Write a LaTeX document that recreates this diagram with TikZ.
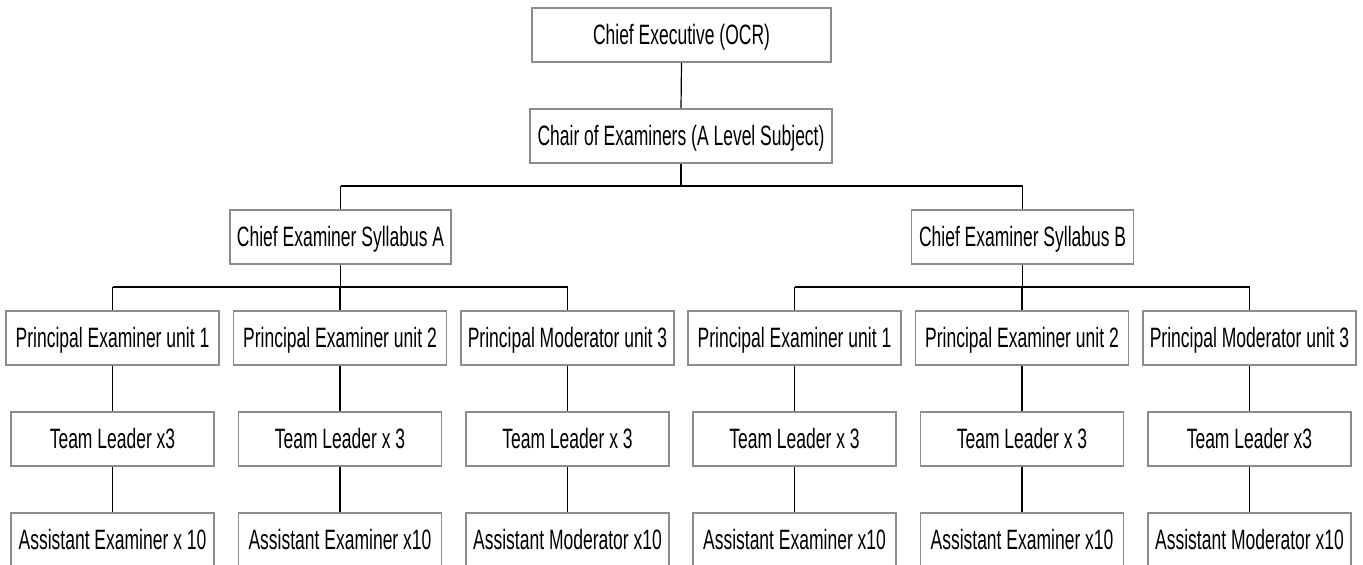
\documentclass[tikz,border=0pt]{standalone}
\usepackage{fontspec}
\setmainfont{Liberation Sans}[FakeStretch=0.625]
\begin{document}
\begin{tikzpicture}[x=1pt,y=-1pt,
  box/.style={draw=boxgray, line width=1.6pt, fill=white, inner sep=0pt,
    minimum height=54pt, text height=19.5pt, text depth=0pt,
    font=\fontsize{28}{32}\selectfont},
  link/.style={draw=black, line width=1.2pt},
  bus/.style={draw=black, line width=2pt}]
\definecolor{boxgray}{HTML}{8C8C8C}
\useasboundingbox (0,0) rectangle (1363,565);
\clip (0,0) rectangle (1363,565);
\fill[white] (0,0) rectangle (1363,565);
% top
\node[box, minimum width=299pt] (ce) at (681.5,35) {Chief Executive (OCR)};
\node[box, minimum width=301.5pt] (chair) at (681,136) {Chair of Examiners (A Level Subject)};
\node[box, minimum width=221pt] (cesA) at (340.5,237) {Chief Examiner Syllabus A};
\node[box, minimum width=222pt] (cesB) at (1022.6,237) {Chief Examiner Syllabus B};
% principal row
\node[box, minimum width=213pt] (pA1) at (112.5,338) {Principal Examiner unit 1};
\node[box, minimum width=213pt] (pA2) at (340,338) {Principal Examiner unit 2};
\node[box, minimum width=213pt] (pA3) at (567.5,338) {Principal Moderator unit 3};
\node[box, minimum width=213pt] (pB1) at (794.5,338) {Principal Examiner unit 1};
\node[box, minimum width=213pt] (pB2) at (1022,338) {Principal Examiner unit 2};
\node[box, minimum width=213pt] (pB3) at (1249.5,338) {Principal Moderator unit 3};
% team leaders
\node[box, minimum width=203pt] (tA1) at (112.5,439) {Team Leader x3};
\node[box, minimum width=203pt] (tA2) at (340,439) {Team Leader x 3};
\node[box, minimum width=203pt] (tA3) at (567.5,439) {Team Leader x 3};
\node[box, minimum width=203pt] (tB1) at (794.5,439) {Team Leader x 3};
\node[box, minimum width=203pt] (tB2) at (1022,439) {Team Leader x 3};
\node[box, minimum width=203pt] (tB3) at (1249.5,439) {Team Leader x3};
% assistants
\node[box, minimum width=203pt] (aA1) at (112.5,540) {Assistant Examiner x 10};
\node[box, minimum width=203pt] (aA2) at (340,540) {Assistant Examiner x10};
\node[box, minimum width=203pt] (aA3) at (567.5,540) {Assistant Moderator x10};
\node[box, minimum width=203pt] (aB1) at (794.5,540) {Assistant Examiner x10};
\node[box, minimum width=203pt] (aB2) at (1022,540) {Assistant Examiner x10};
\node[box, minimum width=203pt] (aB3) at (1249.5,540) {Assistant Moderator x10};
% bus coordinates
\coordinate (b0) at (681,186);
\coordinate (bA) at (340.5,287);
\coordinate (bB) at (1022.6,287);
% connectors
\draw[link] (ce.south) -- (chair.north);
\draw[link] (chair.south) -- (b0);
\draw[bus] (cesA.north |- b0) -- (cesB.north |- b0);
\draw[link] (cesA.north |- b0) -- (cesA.north);
\draw[link] (cesB.north |- b0) -- (cesB.north);
\draw[link] (cesA.south) -- (bA);
\draw[link] (cesB.south) -- (bB);
\draw[bus] (pA1.north |- bA) -- (pA3.north |- bA);
\draw[bus] (pB1.north |- bB) -- (pB3.north |- bB);
\foreach \p in {A1,A2,A3}{
  \draw[link] (p\p.north |- bA) -- (p\p.north);
}
\foreach \p in {B1,B2,B3}{
  \draw[link] (p\p.north |- bB) -- (p\p.north);
}
\foreach \p in {A1,A2,A3,B1,B2,B3}{
  \draw[link] (p\p.south) -- (t\p.north);
  \draw[link] (t\p.south) -- (a\p.north);
}
\end{tikzpicture}
\end{document}
